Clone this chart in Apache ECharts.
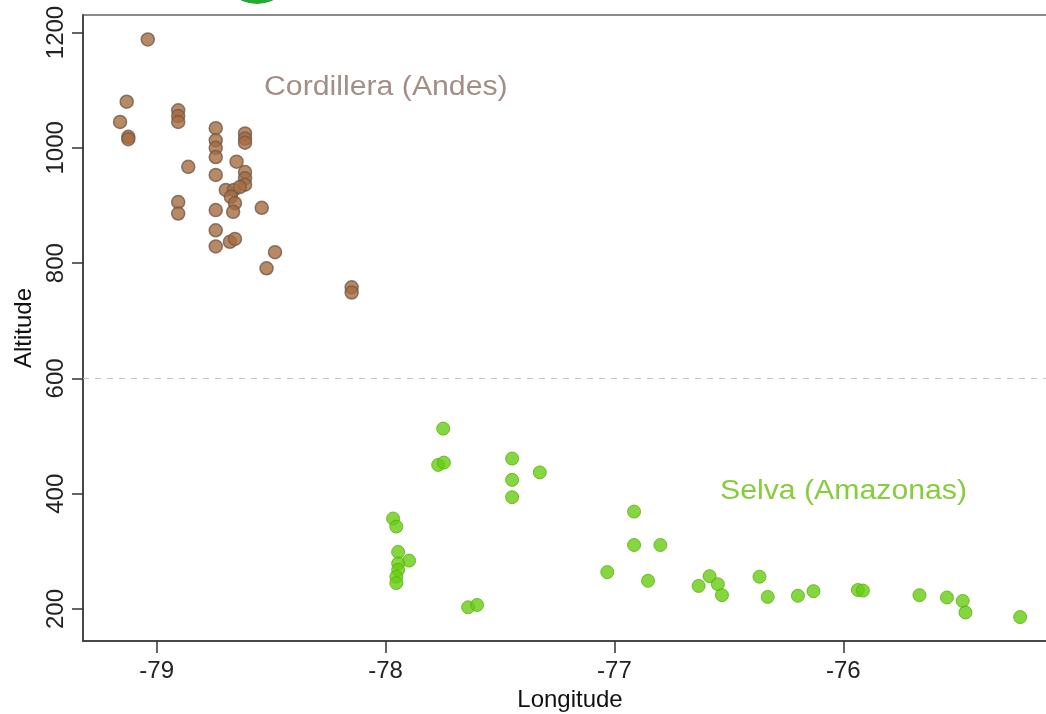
<!DOCTYPE html>
<html>
<head>
<meta charset="utf-8">
<script src="https://cdn.jsdelivr.net/npm/echarts@6/dist/echarts.min.js"></script>
<style>
html,body{margin:0;padding:0;background:#fff;}
#c{width:1046px;height:714px;}
</style>
</head>
<body>
<div id="c"></div>
<script>
// Cordillera (Andes) points: [longitude, altitude]
var andes = [
  [-79.039, 1188], [-79.131, 1080], [-79.160, 1045], [-79.124, 1019], [-79.124, 1015],
  [-78.906, 1065], [-78.906, 1055], [-78.906, 1045],
  [-78.862, 967],
  [-78.742, 1034], [-78.742, 1013], [-78.742, 1000], [-78.742, 984],
  [-78.742, 953],
  [-78.614, 1025], [-78.614, 1016], [-78.614, 1009],
  [-78.651, 976],
  [-78.614, 958], [-78.614, 947], [-78.614, 936],
  [-78.698, 927], [-78.663, 927], [-78.637, 932], [-78.676, 915],
  [-78.658, 904],
  [-78.742, 892], [-78.666, 889], [-78.541, 896],
  [-78.906, 906], [-78.906, 886],
  [-78.742, 857], [-78.742, 829],
  [-78.680, 837], [-78.658, 842],
  [-78.483, 819], [-78.520, 791],
  [-78.148, 758], [-78.148, 749]
];
// Selva (Amazonas) points: [longitude, altitude]
var selva = [
  [-77.748, 513], [-77.770, 450], [-77.745, 454],
  [-77.447, 461], [-77.447, 424], [-77.447, 394], [-77.326, 437],
  [-77.967, 357], [-77.953, 343], [-77.945, 299], [-77.897, 284],
  [-77.945, 279], [-77.945, 268], [-77.953, 256], [-77.953, 245],
  [-77.639, 203], [-77.600, 207],
  [-77.031, 264], [-76.914, 369], [-76.914, 311], [-76.799, 311], [-76.853, 249],
  [-76.632, 240], [-76.584, 257], [-76.548, 243], [-76.530, 224],
  [-76.366, 256], [-76.330, 221], [-76.198, 223], [-76.130, 231],
  [-75.936, 233], [-75.914, 232], [-75.667, 224], [-75.547, 220],
  [-75.478, 214], [-75.466, 194], [-75.227, 186]
];
var xTicks = [-79, -78, -77, -76];
var yTicks = [200, 400, 600, 800, 1000, 1200];
var threshold = 600;

var chart = echarts.init(document.getElementById('c'), null, {renderer: 'canvas'});
var font = 'Liberation Sans, Arial, Helvetica, sans-serif';
chart.setOption({
  animation: false,
  backgroundColor: '#fff',
  grid: {left: 83, top: 15, bottom: 73, right: -11, show: true, borderColor: '#8a8a8a', borderWidth: 2,
         containLabel: false, outerBoundsMode: 'none'},
  xAxis: {
    type: 'value', min: -79.322, max: -75.066,
    name: 'Longitude', nameLocation: 'middle', nameGap: 45,
    nameTextStyle: {fontSize: 24, color: '#111', fontFamily: font},
    axisLine: {show: true, lineStyle: {color: '#333', width: 1.5}},
    axisTick: {show: true, length: 12, customValues: xTicks, lineStyle: {color: '#333', width: 1.5}},
    axisLabel: {customValues: xTicks, fontSize: 24, color: '#222', fontFamily: font, margin: 18,
                formatter: function (v) { return String(v); }},
    splitLine: {show: false}
  },
  yAxis: {
    type: 'value', min: 144.5, max: 1230.4,
    name: 'Altitude', nameLocation: 'middle', nameGap: 47,
    nameTextStyle: {fontSize: 24, color: '#111', fontFamily: font},
    axisLine: {show: true, lineStyle: {color: '#333', width: 1.5}},
    axisTick: {show: true, length: 11, customValues: yTicks, lineStyle: {color: '#333', width: 1.5}},
    axisLabel: {customValues: yTicks, rotate: 90, fontSize: 24, color: '#222', fontFamily: font, margin: 15,
                formatter: function (v) { return String(v); }},
    splitLine: {show: false}
  },
  series: [
    {
      name: 'Cordillera (Andes)', type: 'scatter', data: andes, symbolSize: 13,
      itemStyle: {color: '#a66b3e', borderColor: '#725a4c', borderWidth: 1.5},
      markLine: {
        silent: true, symbol: ['none', 'none'], label: {show: false},
        lineStyle: {type: [6, 6], color: '#c4c4c4', width: 1},
        data: [{yAxis: threshold}]
      },
      z: 3
    },
    {
      name: 'Selva (Amazonas)', type: 'scatter', data: selva, symbolSize: 13,
      itemStyle: {color: '#66cc11', borderColor: '#58b00a', borderWidth: 1},
      z: 3
    }
  ],
  graphic: [
    {type: 'text', x: 264, y: 74, scaleX: 1.12, style: {text: 'Cordillera (Andes)', fontSize: 27, fill: '#a38e86', fontFamily: font}},
    {type: 'text', x: 720, y: 478, scaleX: 1.12, style: {text: 'Selva (Amazonas)', fontSize: 27, fill: '#86cc3c', fontFamily: font}},
    {type: 'circle', shape: {cx: 257, cy: -32, r: 36}, style: {fill: '#22aa33'}, z: 10}
  ]
});
</script>
</body>
</html>
